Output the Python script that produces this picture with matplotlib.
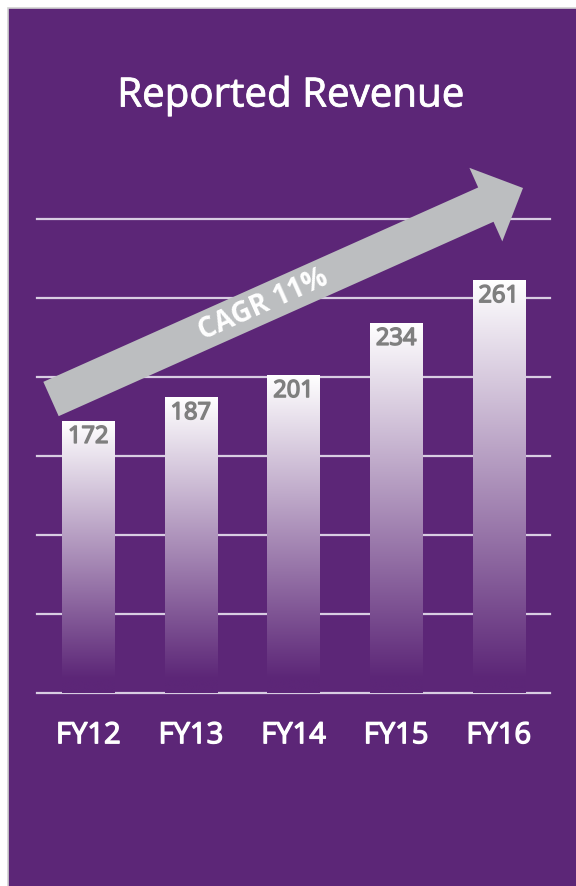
import numpy as np
import matplotlib
matplotlib.use("Agg")
import matplotlib.pyplot as plt
import matplotlib.patheffects as pe
from matplotlib.patches import Rectangle, FancyArrow

# revenue by fiscal year
years = ["FY12", "FY13", "FY14", "FY15", "FY16"]
revenue = [172, 187, 201, 234, 261]
grid_levels = [0, 50, 100, 150, 200, 250, 300]
title = "Reported Revenue"
cagr_label = "CAGR 11%"

purple = "#5C2677"
bg_rgb = np.array([92, 38, 119]) / 255.0
grid_col = "#D8CDE2"
arrow_col = "#BCBEC0"

plt.rcParams["font.family"] = ["Open Sans", "DejaVu Sans"]

W, H = 576, 887
fig = plt.figure(figsize=(W / 100, H / 100), dpi=100, facecolor="white")

# backdrop in pixel units
back = fig.add_axes([0, 0, 1, 1], zorder=0)
back.set_xlim(0, W)
back.set_ylim(H, 0)
back.axis("off")
back.add_patch(Rectangle((8, 9), W, H, facecolor=purple, edgecolor="#D2D2D2", lw=1.2))

# the bar chart itself
ax = fig.add_axes([37 / W, (H - 694) / H, (550 - 37) / W, (694 - 219.7) / H], zorder=1)
ax.patch.set_alpha(0)
ax.axis("off")

for g in grid_levels:
    ax.axhline(g, color=grid_col, lw=1.6, zorder=0, clip_on=False)

# a thin outline in the text colour thickens regular glyphs a little
def heavier(col, w):
    return [pe.withStroke(linewidth=w, foreground=col)]

bw = 0.507
fade_end = 9
for i, v in enumerate(revenue):
    n = 256
    ys = np.linspace(v, 0, n)            # top to bottom
    t = np.clip((v - ys) / (v - fade_end), 0, 1)[:, None]
    rgb = (1 - t) * np.array([1.0, 1.0, 1.0]) + t * bg_rgb
    img = rgb[:, None, :]
    ax.imshow(img, extent=(i - bw / 2, i + bw / 2, 0, v), aspect="auto",
              zorder=2, interpolation="bilinear")
    ax.text(i, v - 10, str(v), ha="center", va="center", color="#7F7F7F",
            fontsize=17, zorder=3, path_effects=heavier("#7F7F7F", 1.1))
    ax.text(i, -27, years[i], ha="center", va="center", color="white",
            fontsize=21, clip_on=False, path_effects=heavier("white", 1.0))
ax.set_xlim(-0.5, 4.5)
ax.set_ylim(0, 300)

# growth arrow and headline on top
top = fig.add_axes([0, 0, 1, 1], zorder=3)
top.patch.set_alpha(0)
top.set_xlim(0, W)
top.set_ylim(H, 0)
top.axis("off")
top.add_patch(FancyArrow(51, 400, 472, -211, width=37.6, head_width=80.6,
                         head_length=40.7, length_includes_head=True,
                         color=arrow_col, lw=0))
ang = np.degrees(np.arctan2(211, 472))
top.text(263, 305, cagr_label, rotation=ang, rotation_mode="anchor",
         ha="center", va="center", color="white", fontsize=20, fontweight="bold")
top.text(291, 97, title, ha="center", va="center", color="white", fontsize=29,
         path_effects=heavier("white", 0.6))

fig.savefig("out.png", dpi=100, facecolor="white")
